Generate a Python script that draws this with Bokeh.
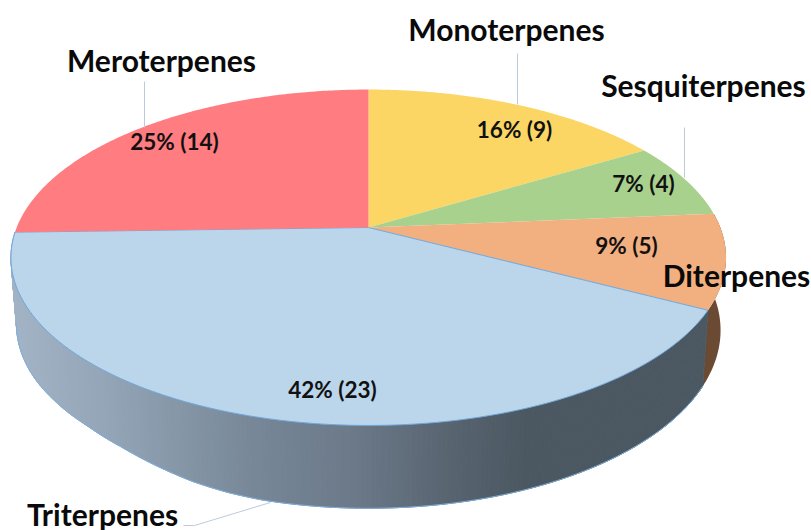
import numpy as np
from bokeh.plotting import figure
from bokeh.embed import file_html
from bokeh.resources import INLINE
from bokeh.core.properties import value

categories = ["Monoterpenes", "Sesquiterpenes", "Diterpenes", "Triterpenes", "Meroterpenes"]
counts = [9, 4, 5, 23, 14]
top_colors = ["#FBD664", "#A9D18E", "#F2AF80", "#BBD5EB", "#FF7C80"]

# layout (page pixels)
name_xy = [(506, 28), (703, 84), (736, 274), (102, 513), (161, 59)]
pct_xy = [(514, 129), (643, 183), (626, 245), (332, 389), (174, 141)]
leaders = [([517, 517], [53, 104]), ([684, 684], [127, 177]), ([144, 144], [81, 127]),
           ([183, 194, 270], [525, 525, 502])]

C = 0.1786
def proj(theta, cx, cy, a, b):
    u, v = np.sin(theta), np.cos(theta)
    d = 1 + C * v
    return cx + b * u / d, cy - a * v / d

def top(t):
    return proj(t, 368, 227, 162.6, 351.8)

def bot(t):
    x, y = proj(t, 368, 298, 172.3, 346.4)
    frac = np.clip((368 - x) / 352, 0, 1)
    nudge = np.interp(frac, [0, 0.3, 0.4, 0.5, 0.6, 0.7, 0.8, 0.9, 1],
                      [0, 0, -1, -3, -6.5, -10, -11.5, -10, -7])
    return x, y + nudge

total = sum(counts)
edges = 2 * np.pi * np.cumsum([0] + counts) / total

def shade(x):
    stops_x = [10, 100, 250, 350, 450, 530, 725]
    r = np.interp(x, stops_x, [162, 148, 120, 108, 88, 75, 75])
    g = np.interp(x, stops_x, [180, 166, 136, 122, 100, 88, 88])
    b = np.interp(x, stops_x, [198, 184, 152, 138, 112, 97, 97])
    return "#%02x%02x%02x" % (int(r), int(g), int(b))

p = figure(width=811, height=530, x_range=(0, 811), y_range=(530, 0),
           output_backend="svg", toolbar_location=None, min_border=0,
           outline_line_color=None)
p.axis.visible = False
p.grid.visible = False

# brown side of the Diterpenes slice
tb = np.linspace(edges[2], edges[3], 40)
xt, yt = top(tb)
xb, yb = bot(tb)
p.patch(list(xt) + list(xb[::-1]), list(yt) + list(yb[::-1]), fill_color="#6B4A33", line_color=None)

# gradient side of the Triterpenes slice
ts = np.linspace(edges[3], edges[4], 220)
xt, yt = top(ts)
xb, yb = bot(ts)
xs, ys, cols = [], [], []
for i in range(len(ts) - 1):
    xs.append([xt[i], xt[i + 1], xb[i + 1], xb[i]])
    ys.append([yt[i], yt[i + 1], yb[i + 1], yb[i]])
    cols.append(shade((xt[i] + xt[i + 1]) / 2))
p.patches(xs, ys, fill_color=cols, line_color=cols, line_width=1)
# outer lower rim, only as far as the silhouette
rim = ts <= np.pi + np.arccos(C)
p.line(xb[rim], yb[rim], line_color="#7FB0DE", line_width=1)

# top faces
for i, c in enumerate(top_colors):
    t = np.linspace(edges[i], edges[i + 1], 160)
    x, y = top(t)
    p.patch([368] + list(x), [227] + list(y), fill_color=c,
            line_color="#6FA8DC" if categories[i] == "Triterpenes" else None, line_width=1)

for lx, ly in leaders:
    p.line(lx, ly, line_color="#BCCBDD", line_width=1)

pct = ["%d%% (%d)" % (round(100 * c / total), c) for c in counts]
p.text([q[0] for q in pct_xy], [q[1] for q in pct_xy], text=pct, text_align="center",
       text_baseline="middle", text_font=value("Lato"), text_font_style="bold",
       text_font_size="22.5px", text_color="#111111")
p.text([q[0] for q in name_xy], [q[1] for q in name_xy], text=categories, text_align="center",
       text_baseline="middle", text_font=value("Lato"), text_font_style="bold",
       text_font_size="30px", text_color="#0a0a0a")

open("out.html", "w").write(file_html(p, INLINE))
